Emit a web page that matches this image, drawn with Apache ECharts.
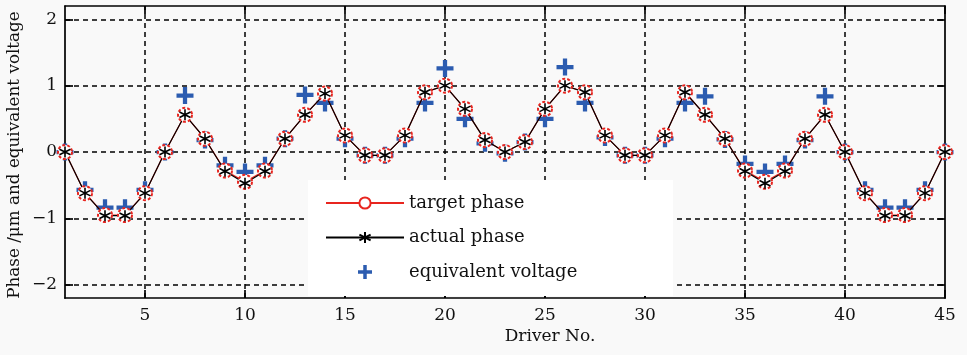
<!DOCTYPE html>
<html>
<head>
<meta charset="utf-8">
<script src="https://cdn.jsdelivr.net/npm/echarts@6/dist/echarts.min.js"></script>
<style>
  html, body { margin: 0; padding: 0; background: #f9f9f9; }
  #chart { width: 967px; height: 355px; }
</style>
</head>
<body>
<div id="chart"></div>
<script>
const drivers = [1, 2, 3, 4, 5, 6, 7, 8, 9, 10, 11, 12, 13, 14, 15, 16, 17, 18, 19, 20, 21, 22, 23,
  24, 25, 26, 27, 28, 29, 30, 31, 32, 33, 34, 35, 36, 37, 38, 39, 40, 41, 42, 43, 44, 45];
const targetPhase = [0, -0.62, -0.95, -0.95, -0.62, 0, 0.56, 0.2, -0.28, -0.45, -0.28, 0.2, 0.56, 0.88,
  0.25, -0.05, -0.05, 0.25, 0.9, 1.0, 0.65, 0.18, 0, 0.15, 0.65, 1.0, 0.9, 0.25, -0.05, -0.05, 0.25,
  0.9, 0.56, 0.2, -0.28, -0.45, -0.28, 0.2, 0.56, 0, -0.62, -0.95, -0.95, -0.62, 0];
const actualPhase = [0, -0.62, -0.96, -0.96, -0.62, 0, 0.56, 0.2, -0.29, -0.47, -0.29, 0.2, 0.56, 0.88,
  0.25, -0.05, -0.05, 0.25, 0.9, 1.0, 0.65, 0.18, 0, 0.15, 0.65, 1.0, 0.9, 0.25, -0.05, -0.05, 0.25,
  0.9, 0.56, 0.2, -0.29, -0.47, -0.29, 0.2, 0.56, 0, -0.62, -0.96, -0.96, -0.62, 0];
const voltage = [0, -0.57, -0.84, -0.84, -0.57, 0, 0.85, 0.18, -0.2, -0.3, -0.2, 0.2, 0.86, 0.74,
  0.2, -0.05, -0.05, 0.2, 0.74, 1.26, 0.5, 0.13, -0.02, 0.15, 0.5, 1.28, 0.74, 0.22, -0.05, -0.05, 0.2,
  0.74, 0.84, 0.19, -0.18, -0.3, -0.18, 0.18, 0.84, 0, -0.57, -0.84, -0.84, -0.57, 0];
const xTicks = [5, 10, 15, 20, 25, 30, 35, 40, 45];
const xGridLines = [5, 10, 15, 20, 25, 30, 35, 40];
const yTicks = [-2, -1, 0, 1, 2];

const serif = 'DejaVu Serif';
const pair = vals => drivers.map((d, i) => [d, vals[i]]);

const starPath = 'path://M5,0L5,10M0.67,2.5L9.33,7.5M0.67,7.5L9.33,2.5';
const plusPath = 'path://M6,0H10V6H16V10H10V16H6V10H0V6H6Z';

const frame = { show: true, onZero: false, lineStyle: { color: '#000', width: 1.7 } };

function xAxis(pos, labels) {
  return {
    type: 'value', position: pos, min: 1, max: 45,
    axisLine: frame,
    axisTick: { show: true, inside: true, length: 8, customValues: xTicks,
      lineStyle: { color: '#000', width: 1.7 } },
    axisLabel: { show: labels, customValues: xTicks, margin: 9,
      fontFamily: serif, fontSize: 17, color: '#111' },
    splitLine: { show: false }
  };
}
function yAxis(pos, labels) {
  return {
    type: 'value', position: pos, min: -2.2, max: 2.2,
    axisLine: frame,
    axisTick: { show: true, inside: true, length: 8, customValues: yTicks,
      lineStyle: { color: '#000', width: 1.7 } },
    axisLabel: { show: labels, customValues: yTicks, margin: 8,
      fontFamily: serif, fontSize: 17, color: '#111',
      formatter: v => String(v).replace('-', '\u2212') },
    splitLine: { show: false }
  };
}

const chart = echarts.init(document.getElementById('chart'));
chart.setOption({
  animation: false,
  backgroundColor: '#f9f9f9',
  grid: { left: 65, right: 22, top: 6, bottom: 57, outerBoundsMode: 'none', containLabel: false },
  xAxis: [xAxis('bottom', true), xAxis('top', false)],
  yAxis: [yAxis('left', true), yAxis('right', false)],
  graphic: [
    { type: 'rect', z: 3, shape: { x: 308, y: 180, width: 365, height: 116 },
      style: { fill: '#ffffff' } },
    { type: 'text', z: 3, x: 550, y: 337,
      style: { text: 'Driver No.', font: '17px "DejaVu Serif"', fill: '#111',
        align: 'center', verticalAlign: 'middle' } },
    { type: 'text', z: 3, x: 15, y: 155, rotation: Math.PI / 2,
      style: { text: 'Phase /μm and equivalent voltage', font: '16.8px "DejaVu Serif"', fill: '#111',
        align: 'center', verticalAlign: 'middle' } }
  ],
  legend: {
    orient: 'vertical', left: 320, top: 188,
    itemWidth: 78, itemHeight: 14, itemGap: 14.5,
    textStyle: { fontFamily: serif, fontSize: 18, color: '#111', lineHeight: 20 },
    data: ['target phase', 'actual phase', 'equivalent voltage']
  },
  series: [
    {
      name: 'target phase', type: 'line', data: pair(targetPhase),
      symbol: 'emptyCircle', symbolSize: 14,
      lineStyle: { color: '#e8251f', width: 1.2 },
      itemStyle: { color: '#e8251f', borderColor: '#e8251f', borderWidth: 1.6, borderType: [3, 2] },
      markLine: {
        silent: true, z: 1, symbol: ['none', 'none'], label: { show: false },
        lineStyle: { color: '#000', type: [5, 4], width: 1.5 },
        data: xGridLines.map(v => ({ xAxis: v })).concat(yTicks.map(v => ({ yAxis: v })))
      }
    },
    {
      name: 'actual phase', type: 'line', data: pair(actualPhase),
      symbol: starPath, symbolSize: 11,
      lineStyle: { color: '#000', width: 1.2 },
      itemStyle: { color: '#000', borderColor: '#000', borderWidth: 1.6 }
    },
    {
      name: 'equivalent voltage', type: 'scatter', data: pair(voltage),
      symbol: plusPath, symbolSize: 17, symbolKeepAspect: true,
      itemStyle: { color: '#2c5cb0', opacity: 1 }
    }
  ]
});
</script>
</body>
</html>
